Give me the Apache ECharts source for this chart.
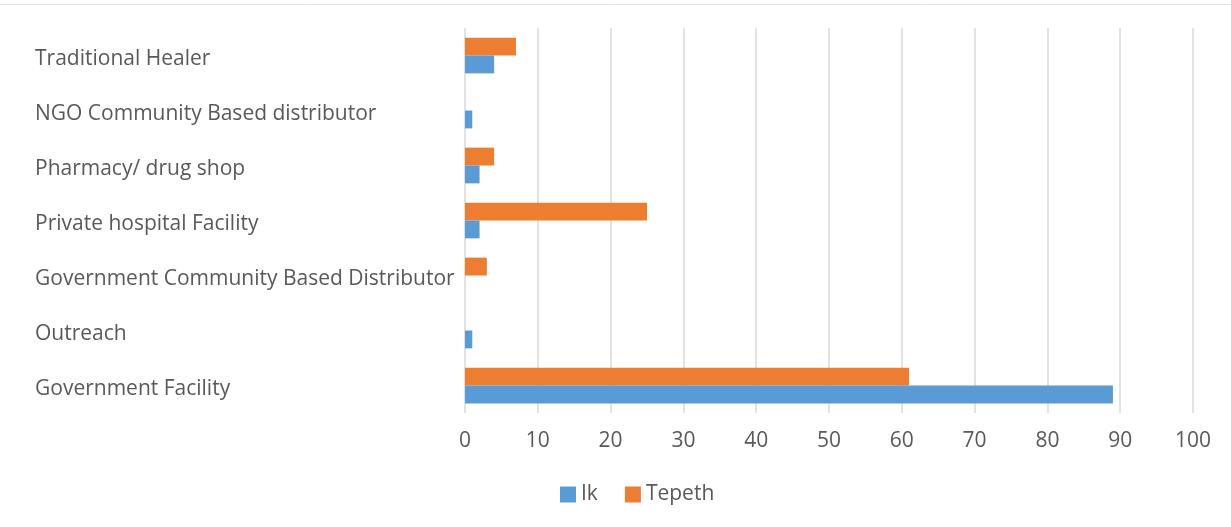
<!DOCTYPE html>
<html>
<head>
<meta charset="utf-8">
<script src="https://cdn.jsdelivr.net/npm/echarts@6/dist/echarts.min.js"></script>
<style>
  html, body { margin: 0; padding: 0; background: #fff; }
  #chart { width: 1231px; height: 527px; }
</style>
</head>
<body>
<div id="chart"></div>
<script>
// Categories listed bottom to top (category axis grows upward)
const categories = [
  'Government Facility',
  'Outreach',
  'Government Community Based Distributor',
  'Private hospital Facility',
  'Pharmacy/ drug shop',
  'NGO Community Based distributor',
  'Traditional Healer'
];
const ikValues = [89, 1, 0, 2, 2, 1, 4];
const tepethValues = [61, 0, 3, 25, 4, 0, 7];
const xTicks = { min: 0, max: 100, interval: 10 };

const textColor = '#595959';
const fontFamily = '"Open Sans", "Noto Sans", sans-serif';

const chart = echarts.init(document.getElementById('chart'), null, { renderer: 'canvas' });
chart.setOption({
  animation: false,
  backgroundColor: '#ffffff',
  graphic: [{
    type: 'line',
    shape: { x1: 0, y1: 4.5, x2: 1231, y2: 4.5 },
    style: { stroke: '#e0e0e0', lineWidth: 1 }
  }],
  grid: { left: 465, right: 38, top: 28, bottom: 114, containLabel: false },
  legend: {
    top: 479,
    left: 555,
    itemWidth: 16,
    itemHeight: 16,
    itemGap: 27,
    icon: 'rect',
    textStyle: { color: textColor, fontSize: 21, fontFamily: fontFamily },
    data: ['Ik', 'Tepeth']
  },
  xAxis: {
    type: 'value',
    min: xTicks.min,
    max: xTicks.max,
    interval: xTicks.interval,
    axisLine: { show: false },
    axisTick: { show: false },
    splitLine: { show: true, lineStyle: { color: '#d9d9d9', width: 1.5 } },
    axisLabel: { color: textColor, fontSize: 21, fontFamily: fontFamily, margin: 18 }
  },
  yAxis: {
    type: 'category',
    data: categories,
    axisLine: { show: false },
    axisTick: { show: false },
    axisLabel: {
      color: textColor,
      fontSize: 21,
      fontFamily: fontFamily,
      align: 'left',
      verticalAlign: 'top',
      lineHeight: 7,
      margin: 430
    }
  },
  // Tepeth is listed first so that Ik sits below it within each group
  series: [
    {
      name: 'Tepeth',
      type: 'bar',
      data: tepethValues,
      itemStyle: { color: '#ed7d31' },
      barGap: '0%',
      barCategoryGap: '35%'
    },
    {
      name: 'Ik',
      type: 'bar',
      data: ikValues,
      itemStyle: { color: '#5b9bd5' },
      barGap: '0%',
      barCategoryGap: '35%'
    }
  ]
});
</script>
</body>
</html>
